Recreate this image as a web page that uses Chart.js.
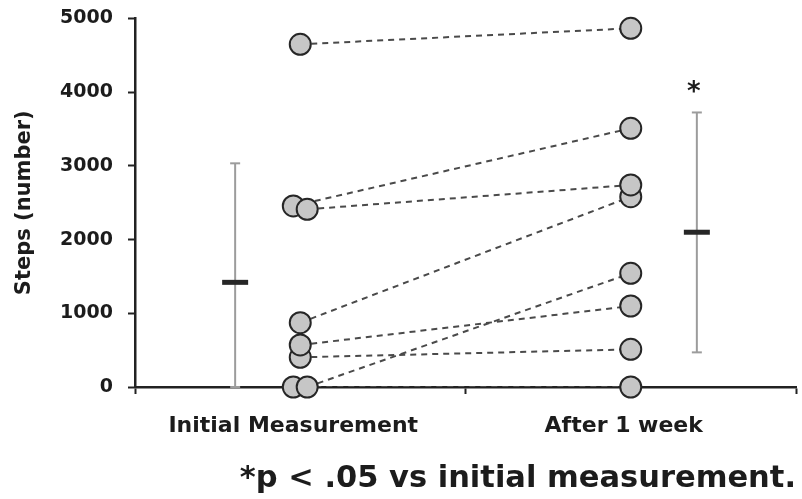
<!DOCTYPE html>
<html>
<head>
<meta charset="utf-8">
<script src="https://cdn.jsdelivr.net/npm/chart.js@4.4.0/dist/chart.umd.min.js"></script>
<style>
  html, body { margin: 0; padding: 0; background: #fff; }
  #wrap { width: 802px; height: 499px; }
</style>
</head>
<body>
<div id="wrap"><canvas id="stepsChart"></canvas></div>
<script>
// Daily steps per participant, before and after one week
const groupLabels = ['Initial Measurement', 'After 1 week'];
const initialSteps = [4650, 2456, 2411, 872, 570, 403, 0, 0];
const weekSteps = [4867, 3510, 2741, 2582, 1099, 511, 1543, 0];

// Group mean and SD whiskers
const groupMeans = [1420, 2100];
const whiskerLow = [0, 470];
const whiskerHigh = [3035, 3725];

const yTicks = [0, 1000, 2000, 3000, 4000, 5000];
const yTitle = 'Steps (number)';
const sigMark = '*';
const footnote = '*p < .05 vs initial measurement.';

// Layout on the linear x axis: groups sit at 0.5 and 1.5
const groupCentre = [0.5, 1.5];
const meanShift = [-0.197, 0.2];
const pairNudge = 0.021;
const initialNudge = [0, -1, 1, 0, 0, 0, 1, -1];

const FONT = "'DejaVu Sans', sans-serif";
const INK = '#1c1c1c';

function buildDatasets() {
  const sets = [];

  // dashed connectors, one per participant
  initialSteps.forEach((v, i) => {
    sets.push({
      type: 'line',
      data: [
        { x: groupCentre[0] + initialNudge[i] * pairNudge, y: v },
        { x: groupCentre[1], y: weekSteps[i] }
      ],
      borderColor: '#4a4a4a',
      borderWidth: 2,
      borderDash: [6, 5],
      pointRadius: 0,
      order: 2
    });
  });

  // participant markers, drawn left to right so the right one of a pair is on top
  const pts = [];
  initialSteps.forEach((v, i) => pts.push({ x: groupCentre[0] + initialNudge[i] * pairNudge, y: v }));
  weekSteps.forEach(v => pts.push({ x: groupCentre[1], y: v }));
  pts.sort((a, b) => (a.x - b.x) || (a.y - b.y));
  sets.push({
    type: 'scatter',
    data: pts,
    pointRadius: 10.5,
    pointBackgroundColor: '#c6c6c6',
    pointBorderColor: '#262626',
    pointBorderWidth: 2,
    clip: false,
    order: 0
  });

  // SD whiskers with small caps
  groupMeans.forEach((m, g) => {
    const x = groupCentre[g] + meanShift[g];
    sets.push({
      type: 'line',
      data: [{ x: x, y: whiskerLow[g] }, { x: x, y: whiskerHigh[g] }],
      borderColor: '#9c9c9c',
      borderWidth: 2,
      pointStyle: 'line',
      pointRadius: 5,
      pointBorderColor: '#9c9c9c',
      pointBorderWidth: 2,
      clip: false,
      order: 3
    });
  });

  // group means as thick dashes
  sets.push({
    type: 'scatter',
    data: groupMeans.map((m, g) => ({ x: groupCentre[g] + meanShift[g], y: m })),
    pointStyle: 'line',
    pointRadius: 13,
    pointBorderColor: '#262626',
    pointBorderWidth: 5,
    clip: false,
    order: 1
  });

  return sets;
}

// asterisk above the post-week whisker
const sigPlugin = {
  id: 'sigPlugin',
  afterDatasetsDraw(chart) {
    const { ctx, scales } = chart;
    const x = scales.x.getPixelForValue(groupCentre[1] + meanShift[1]) - 3;
    const y = scales.y.getPixelForValue(whiskerHigh[1]) - 19;
    ctx.save();
    ctx.font = 'bold 26px ' + FONT;
    ctx.fillStyle = INK;
    ctx.textAlign = 'center';
    ctx.textBaseline = 'middle';
    ctx.fillText(sigMark, x, y);
    ctx.restore();
  }
};

new Chart(document.getElementById('stepsChart'), {
  type: 'scatter',
  data: { datasets: buildDatasets() },
  plugins: [sigPlugin],
  options: {
    responsive: true,
    maintainAspectRatio: false,
    animation: false,
    layout: {
      autoPadding: false,
      padding: { top: 0, right: 6, left: 0, bottom: 0 }
    },
    plugins: {
      legend: { display: false },
      tooltip: { enabled: false },
      title: {
        display: true,
        text: footnote,
        position: 'bottom',
        align: 'end',
        color: INK,
        font: { family: FONT, size: 30.5, weight: 'bold' },
        padding: { top: 2, bottom: 2 }
      }
    },
    scales: {
      x: {
        type: 'linear',
        min: 0,
        max: 2,
        afterBuildTicks(scale) {
          scale.ticks = [0, 0.5, 1, 1.5, 2].map(v => ({ value: v }));
        },
        afterFit(scale) {
          // the end labels are blank, so no overhang is needed
          scale.paddingLeft = 0;
          scale.paddingRight = 0;
        },
        ticks: {
          autoSkip: false,
          maxRotation: 0,
          color: INK,
          padding: 19,
          labelOffset: -7,
          font: { family: FONT, size: 22, weight: 'bold' },
          callback(v) {
            const g = groupCentre.indexOf(v);
            return g >= 0 ? groupLabels[g] : '';
          }
        },
        grid: {
          drawOnChartArea: false,
          tickLength: 7,
          tickWidth: 2,
          tickColor: c => (c.tick && c.tick.value % 1 === 0) ? '#222' : 'rgba(0,0,0,0)'
        },
        border: { color: '#222', width: 2.5 }
      },
      y: {
        min: yTicks[0],
        max: yTicks[yTicks.length - 1],
        afterBuildTicks(scale) {
          scale.ticks = yTicks.map(v => ({ value: v }));
        },
        afterFit(scale) {
          scale.width = 135;
          scale.paddingTop = 18.5;
          scale.paddingBottom = 0;
        },
        ticks: {
          color: INK,
          padding: 15,
          font: { family: FONT, size: 19, weight: 'bold' },
          callback: v => String(v)
        },
        grid: {
          drawOnChartArea: false,
          tickLength: 7,
          tickWidth: 2,
          tickColor: '#222'
        },
        border: { color: '#222', width: 2.5 },
        title: {
          display: true,
          text: yTitle,
          color: INK,
          font: { family: FONT, size: 21, weight: 'bold' },
          padding: { top: 12, bottom: 0 }
        }
      }
    }
  }
});
</script>
</body>
</html>
